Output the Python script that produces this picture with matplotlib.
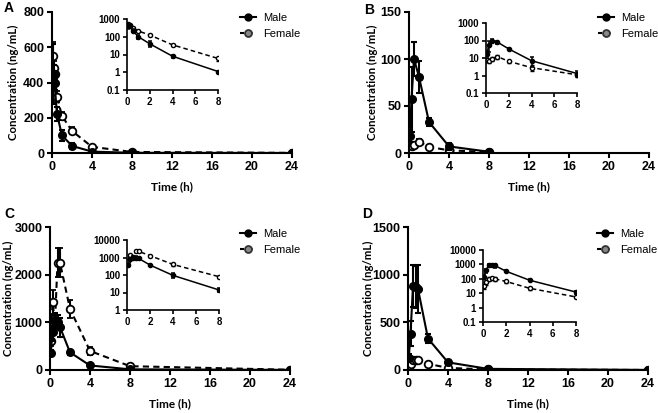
import numpy as np
import matplotlib
matplotlib.use("Agg")
import matplotlib.pyplot as plt
from matplotlib.lines import Line2D
from matplotlib.ticker import FixedLocator, NullLocator, FuncFormatter

plt.rcParams["font.family"] = ["Liberation Sans", "DejaVu Sans"]
plt.rcParams["font.weight"] = "bold"

# === Dati (ng/mL) ===
t_a = [0.083, 0.167, 0.25, 0.5, 1, 2, 4, 8, 24]
male_a = [450, 450, 400, 220, 100, 40, 8, 1.1, 0.1]
male_a_err = [170, 50, 40, 40, 30, 15, 2, 0.15, 0]
female_a = [550, 480, 450, 320, 210, 125, 35, 6, 0.5]
female_a_err = [80, 40, 30, 30, 25, 20, 5, 1.5, 0]

t_b = [0.083, 0.25, 0.5, 1, 2, 4, 8]
male_b = [18, 57, 100, 81, 33, 7, 1.3]
male_b_err = [6, 35, 18, 17, 4, 4, 0.4]
female_b = [8, 7, 9, 12, 6.5, 2.8, 1.1]
female_b_err = [2, 2, 2, 3, 1, 1, 0.3]

t_c = [0.083, 0.25, 0.5, 0.75, 1, 2, 4, 8, 24]
male_c = [350, 800, 1050, 1000, 900, 370, 95, 14, 2]
male_c_err = [60, 200, 150, 150, 200, 50, 30, 3, 0]
female_c = [600, 1420, 1000, 2250, 2250, 1280, 400, 80, 5]
female_c_err = [100, 250, 150, 300, 300, 180, 80, 10, 0]

t_d = [0.083, 0.25, 0.5, 0.75, 1, 2, 4, 8, 24]
male_d = [130, 380, 880, 870, 850, 330, 80, 12, 0.5]
male_d_err = [40, 130, 220, 220, 250, 50, 10, 3, 0]
female_d = [30, 60, 100, 110, 100, 65, 22, 5.5, 0.2]
female_d_err = [10, 20, 30, 30, 30, 10, 4, 1, 0]

pannelli = [
    ("A", t_a, male_a, male_a_err, female_a, female_a_err, 800, 200,
     [0.1, 1, 10, 100, 1000]),
    ("B", t_b, male_b, male_b_err, female_b, female_b_err, 150, 50,
     [0.1, 1, 10, 100, 1000]),
    ("C", t_c, male_c, male_c_err, female_c, female_c_err, 3000, 1000,
     [1, 10, 100, 1000, 10000]),
    ("D", t_d, male_d, male_d_err, female_d, female_d_err, 1500, 500,
     [0.1, 1, 10, 100, 1000, 10000]),
]

W, H = 658, 413
# posizioni in pixel: main (x0, x1, ytop, ybot), inset, legenda, lettera
pos_main = [(52, 292, 12, 153), (409, 649, 12, 153), (50, 290, 227, 370), (408, 648, 227, 370)]
pos_ins = [(127, 218, 19, 90), (486, 577, 23, 93), (127, 219, 240, 310), (483, 576, 250, 322)]
pos_leg = [(240, 13), (598, 13), (240, 229), (597, 229)]
pos_let = [(4, 8), (364, 10), (4, 214), (362, 214)]
ylab_x = [19, 378, 14, 374]  # bordo destro dell'etichetta y


def rect(p):
    x0, x1, yt, yb = p
    return [x0 / W, 1 - yb / H, (x1 - x0) / W, (yb - yt) / H]


def fmt_log(v, _):
    return "%g" % v


fig = plt.figure(figsize=(W / 100, H / 100), dpi=100)

maniglie = [
    Line2D([], [], color="black", lw=1.5, marker="o", ms=5, mfc="black", mec="black"),
    Line2D([], [], color="black", lw=1.5, ls=(0, (2, 2)), marker="o", ms=5,
           mfc="#888888", mec="#333333", mew=1.3),
]

for i, (lett, t, m, me, f, fe, ymax, ystep, yticks_log) in enumerate(pannelli):
    ax = fig.add_axes(rect(pos_main[i]))
    ax.errorbar(t, m, yerr=me, color="black", lw=1.5, marker="o", ms=5.5,
                mfc="black", mec="black", capsize=2, elinewidth=1.5, capthick=1.5,
                zorder=3)
    ax.errorbar(t, f, yerr=fe, color="black", lw=1.5, ls=(0, (3, 2)), marker="o", ms=5.5,
                mfc="white", mec="black", mew=1.3, capsize=2, elinewidth=1.5, capthick=1.5,
                zorder=2)
    ax.set_xlim(0, 24)
    ax.set_ylim(0, ymax)
    ax.set_xticks(range(0, 25, 4))
    ax.set_yticks(np.arange(0, ymax + 1, ystep))
    for s in ["top", "right"]:
        ax.spines[s].set_visible(False)
    for s in ["left", "bottom"]:
        ax.spines[s].set_linewidth(1.5)
    ax.tick_params(width=1.5, length=3.5, labelsize=9, pad=2)
    for lab in ax.get_xticklabels() + ax.get_yticklabels():
        lab.set_fontweight("bold")
    ax.set_xlabel("Time (h)", fontsize=8.5, fontweight="bold", family=["Lato", "DejaVu Sans"],
                  labelpad=6)
    ax.set_ylabel("Concentration (ng/mL)", fontsize=8.2, fontweight="bold",
                  family=["Lato", "DejaVu Sans"])
    ax.yaxis.set_label_coords(ylab_x[i] / W, 1 - (pos_main[i][2] + pos_main[i][3]) / 2 / H,
                              transform=fig.transFigure)
    lx, ly = pos_leg[i]
    ax.legend(maniglie, ["Male", "Female"], loc="upper left",
              bbox_to_anchor=(lx / W, 1 - ly / H), bbox_transform=fig.transFigure,
              frameon=False, handlelength=1.4, handletextpad=0.7, labelspacing=0.55,
              borderpad=0, borderaxespad=0, prop={"weight": "normal", "size": 8})
    fig.text(pos_let[i][0] / W, 1 - pos_let[i][1] / H, lett, fontsize=10,
             fontweight="bold", va="center", ha="left")

    # === Inset in scala log ===
    ins = fig.add_axes(rect(pos_ins[i]))
    tt = np.array(t)
    sel = tt <= 8
    ins.errorbar(tt[sel], np.array(m)[sel], yerr=np.array(me)[sel], color="black", lw=1.1,
                 marker="o", ms=3, mfc="black", mec="black", capsize=1.5,
                 elinewidth=1.1, capthick=1.1, zorder=3)
    ins.errorbar(tt[sel], np.array(f)[sel], yerr=np.array(fe)[sel], color="black", lw=1.1,
                 ls=(0, (3, 2)), marker="o", ms=3, mfc="white", mec="black", mew=1,
                 capsize=1.5, elinewidth=1.1, capthick=1.1, zorder=2)
    ins.set_yscale("log")
    ins.set_ylim(yticks_log[0], yticks_log[-1])
    ins.set_xlim(0, 8)
    ins.set_xticks([0, 2, 4, 6, 8])
    ins.yaxis.set_major_locator(FixedLocator(yticks_log))
    ins.yaxis.set_minor_locator(NullLocator())
    ins.yaxis.set_major_formatter(FuncFormatter(fmt_log))
    for s in ["top", "right"]:
        ins.spines[s].set_visible(False)
    for s in ["left", "bottom"]:
        ins.spines[s].set_linewidth(1.2)
    ins.tick_params(width=1.2, length=3, labelsize=7, pad=2)
    for lab in ins.get_xticklabels() + ins.get_yticklabels():
        lab.set_fontweight("bold")

fig.savefig("out.png", dpi=100)
